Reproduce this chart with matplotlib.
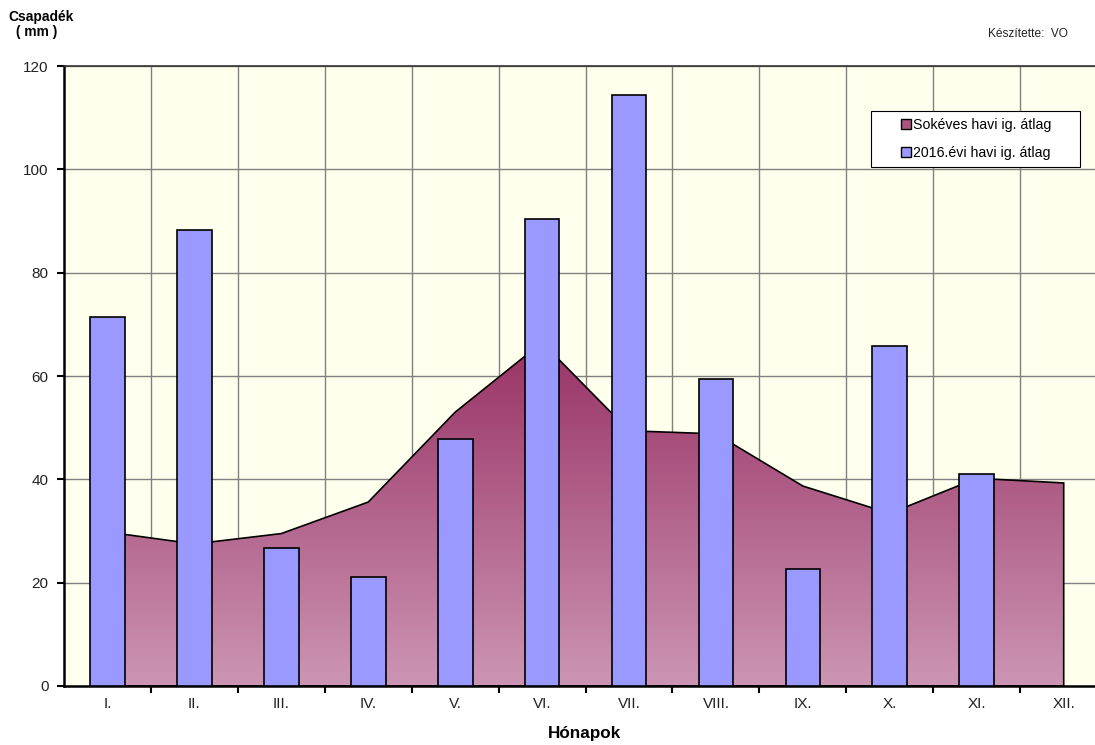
import matplotlib.pyplot as plt
import numpy as np
from matplotlib.patches import Polygon, Rectangle
from matplotlib.colors import LinearSegmentedColormap
from matplotlib.lines import Line2D

plt.rcParams['font.family'] = ['Liberation Sans', 'DejaVu Sans']

months = ['I.', 'II.', 'III.', 'IV.', 'V.', 'VI.', 'VII.', 'VIII.', 'IX.', 'X.', 'XI.', 'XII.']
# long-term monthly average (mm)
avg_longterm = [29.8, 27.5, 29.5, 35.6, 53.0, 66.5, 49.4, 48.8, 38.7, 33.4, 40.2, 39.3]
# 2016 monthly precipitation (mm), no value yet for December
rain_2016 = [71.4, 88.2, 26.7, 21.1, 47.8, 90.3, 114.3, 59.4, 22.6, 65.8, 41.1, np.nan]
series_names = ['Sokéves havi ig. átlag', '2016.évi havi ig. átlag']

x = np.arange(len(months))

fig = plt.figure(figsize=(10.95, 7.45), dpi=100)
ax = fig.add_axes([0.0584, 0.0792, 0.9416, 0.8322])
ax.set_facecolor('#FFFFEE')

# grid: horizontal at every 20 mm, vertical between months
ax.set_yticks(np.arange(0, 121, 20))
ax.set_xticks(np.arange(0.5, 11.5, 1))
ax.set_xticklabels([])
ax.grid(True, color='#808080', linewidth=1.0, zorder=0)
ax.set_axisbelow(True)
for k, m in enumerate(months):
    ax.text(k, -2.2, m, ha='center', va='top', fontsize=11, color='#222222')

# long-term average as an area with vertical gradient
verts = [(x[0], 0)] + list(zip(x, avg_longterm)) + [(x[-1], 0)]
poly = Polygon(verts, closed=True, facecolor='none', edgecolor='black', linewidth=1.2, zorder=2)
ax.add_patch(poly)
cmap = LinearSegmentedColormap.from_list('area', ['#CC95B3', '#993366'])
grad = np.linspace(0, 1, 256).reshape(-1, 1)
img = ax.imshow(grad, cmap=cmap, aspect='auto', origin='lower',
                extent=[x[0], x[-1], 0, max(avg_longterm)], zorder=1.5)
img.set_clip_path(poly)

# 2016 bars
ax.bar(x, rain_2016, width=0.40, color='#9999FF', edgecolor='black', linewidth=1.2, zorder=3)

ax.set_xlim(-0.5, 11.36)
ax.set_ylim(0, 120)

# legend: box drawn separately, entries centred inside it
ax.add_patch(Rectangle((0.783, 0.837), 0.202, 0.090, transform=ax.transAxes,
                       facecolor='white', edgecolor='black', linewidth=0.8, zorder=5))
handles = [
    Line2D([], [], marker='s', linestyle='none', markersize=7,
           markerfacecolor='#AA5580', markeredgecolor='black', markeredgewidth=1.0),
    Line2D([], [], marker='s', linestyle='none', markersize=7,
           markerfacecolor='#9999FF', markeredgecolor='black', markeredgewidth=1.0),
]
leg = ax.legend(handles, series_names, loc='center', bbox_to_anchor=(0.884, 0.882),
                borderaxespad=0, fontsize=10.2, frameon=False, handletextpad=0.1,
                handlelength=0.9, labelspacing=1.0, borderpad=0)
leg.set_zorder(6)

# axes styling
ax.spines['right'].set_visible(False)
ax.spines['left'].set_linewidth(1.8)
ax.spines['bottom'].set_linewidth(1.8)
ax.spines['top'].set_linewidth(1.2)
ax.spines['top'].set_color('#333333')
ax.tick_params(axis='y', direction='out', length=5, width=1.5, labelsize=11,
               labelcolor='#222222', pad=6)
ax.tick_params(axis='x', direction='out', length=5, width=1.5)

fig.text(0.0073, 0.977, 'Csapadék', fontsize=9.9, fontweight='bold', ha='left', va='center')
fig.text(0.0146, 0.957, '( mm )', fontsize=9.9, fontweight='bold', ha='left', va='center')
fig.text(0.902, 0.955, 'Készítette:  VO', fontsize=8.6, ha='left', va='center', color='#222222')
fig.text(0.534, 0.016, 'Hónapok', fontsize=12.3, fontweight='bold', ha='center', va='center')

fig.savefig('out.png', dpi=100)
